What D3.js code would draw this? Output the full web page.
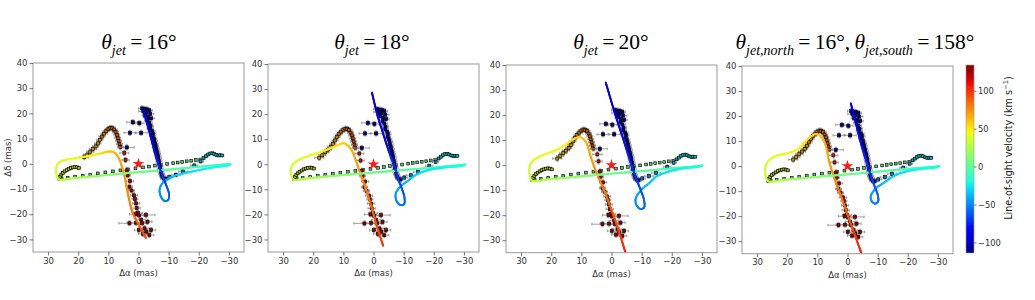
<!DOCTYPE html>
<html><head><meta charset="utf-8">
<script src="https://cdn.jsdelivr.net/npm/d3@7"></script>
<style>body{margin:0;background:#fff} svg{display:block}</style>
</head><body>
<svg id="chart" width="1035" height="300"></svg>
<script>
// ---------- DATA ----------
const xTicks = [30, 20, 10, 0, -10, -20, -30];
const yTicks = [-30, -20, -10, 0, 10, 20, 30, 40];
const cbTicks = [-100, -50, 0, 50, 100];
const VMIN = -114, VMAX = 134;

// observed components: [dRA, dDec, velocity, xerr, yerr]
const blueChain = [
 [-1.2,22.0,-105,1.2,1.0],[-2.0,21.8,-105,1.0,1.0],[-2.8,21.6,-105,1.2,1.0],[-3.6,21.2,-105,1.0,1.0],
 [-1.6,20.8,-105,1.5,1.0],[-2.6,20.3,-105,1.0,1.0],[-3.9,19.8,-105,1.2,1.0],[-2.2,19.2,-105,1.0,1.0],
 [-3.2,18.6,-104,1.5,1.0],[-4.2,18.0,-104,1.0,1.0],[-3.0,17.3,-104,1.0,1.0],[-3.6,16.2,-104,1.0,1.0],
 [-4.0,15.0,-103,1.0,1.0],[-3.9,14.0,-103,1.0,1.0],[-4.5,13.0,-103,1.0,1.0],[-4.8,12.0,-102,1.0,1.0],
 [-4.7,11.0,-102,1.0,1.0],[-5.1,10.0,-102,1.0,1.0],[-5.3,9.0,-101,1.0,1.0],[-5.5,8.0,-101,1.0,1.0],
 [-5.7,7.0,-100,1.0,1.0],[-5.9,6.0,-100,1.0,1.0],[-6.1,5.0,-99,1.0,1.0],[-6.3,4.0,-99,1.0,1.0],
 [-6.5,3.0,-98,1.0,1.0],[-6.6,2.0,-98,1.0,1.0],[-6.8,1.0,-97,1.0,1.0],[-6.9,0.0,-97,1.0,1.0],
 [-7.1,-1.0,-96,1.0,1.0],[-7.2,-2.0,-95,1.0,1.0],[-7.4,-3.0,-94,1.0,1.0],[-7.6,-4.0,-93,1.0,1.0],
 [-7.9,-5.0,-92,1.0,1.0],[-8.3,-5.8,-90,1.0,1.0],[-9.0,-6.1,-88,1.0,1.0]
];
const blueScatter = [
 [1.9,16.5,-108,2.0,1.0],[-0.3,16.1,-108,1.5,1.0],[2.8,12.3,-108,2.0,1.0],
 [-0.9,12.3,-108,2.0,1.0],[3.9,6.5,-108,2.5,1.0]
];
const lightBlue = [
 [-10.2,-5.3,-48,1.2,0.8],[-12.4,-4.4,-45,1.5,0.8],[-14.8,-3.1,-42,1.5,0.8],
 [-18.5,-0.7,-38,1.2,0.8],[-20.6,1.0,-34,1.0,0.8]
];
const cyanCluster = [
 [-21.6,2.3,-28,0.6,0.5],[-22.4,3.0,-26,0.6,0.5],[-23.1,3.7,-25,0.6,0.5],[-23.8,4.1,-24,0.6,0.5],
 [-24.5,4.2,-24,0.6,0.5],[-25.1,3.9,-24,0.6,0.5],[-25.8,3.5,-25,0.6,0.5],[-26.5,3.3,-26,0.6,0.5],
 [-27.1,3.4,-26,0.6,0.5],[-27.7,3.3,-27,0.6,0.5]
];
const greenRow = [
 [25.5,-5.8,5,0,0],[23.5,-5.5,5,0,0],[21.0,-5.1,5,0,0],[18.5,-4.7,5,0,0],[16.0,-4.3,5,0,0],
 [13.5,-3.8,5,0,0],[11.0,-3.4,5,0,0],[8.5,-3.0,5,0,0],[6.0,-2.6,5,0,0],[3.5,-2.2,5,0,0],
 [1.0,-1.8,5,0,0],[-1.5,-1.4,5,0,0],[-3.5,-1.1,5,0,0],[-5.5,-0.7,5,0,0],[-7.5,-0.4,5,0,0],
 [-9.5,-0.1,5,0,0],[-11.5,0.25,5,0,0],[-13.0,0.5,5,0,0],[-14.5,0.75,5,0,0],[-16.0,1.0,5,0,0],
 [-17.5,1.2,5,0,0],[-19.0,1.5,5,0,0],[-20.5,1.7,5,0,0]
];
const oliveArc = [
 [26.3,-5.9,38,0.5,0.5],[26.0,-5.1,38,0.5,0.5],[25.6,-4.3,38,0.5,0.5],[25.1,-3.6,38,0.5,0.5],
 [24.5,-3.0,38,0.5,0.5],[23.8,-2.5,38,0.5,0.5],[23.1,-2.0,38,0.5,0.5],[22.4,-1.7,38,0.5,0.5],
 [21.7,-1.4,38,0.5,0.5],[21.0,-1.3,38,0.5,0.5],[20.4,-1.4,38,0.5,0.5],[19.8,-1.7,38,0.5,0.5]
];
const orangeArc = [
 [18.0,2.6,58,1.5,1.0],[17.0,3.6,60,1.2,1.0],[16.0,4.8,62,1.2,1.0],[15.1,5.8,63,1.2,1.0],
 [14.2,6.9,65,1.0,1.0],[13.5,8.1,66,1.0,1.0],[12.8,9.5,68,1.0,1.0],[12.1,10.8,70,1.0,1.0],
 [11.4,12.0,72,1.0,1.0],[10.7,13.0,74,1.0,1.0],[10.0,13.8,76,1.0,1.0],[9.3,14.2,78,1.0,1.0],
 [8.7,14.1,80,1.0,1.0],[8.1,13.6,82,1.0,1.0],[7.6,12.6,84,1.0,1.0],[7.2,11.5,86,1.0,1.0],
 [6.9,10.3,88,1.0,1.0],[6.6,9.1,90,1.0,1.0],[6.3,7.8,92,1.0,1.0],[6.0,6.6,94,1.0,1.0],
 [4.7,4.3,100,1.5,1.0],[4.3,1.5,102,1.2,1.0]
];
const redChain = [
 [3.9,-2.6,112,1.0,1.0],[3.6,-4.6,112,1.0,1.0],[2.8,-6.9,114,1.2,1.0],[3.0,-9.1,114,1.0,1.0],
 [2.3,-10.6,115,1.0,1.0],[1.5,-12.5,116,1.2,1.0],[1.2,-14.0,116,1.0,1.0],[0.8,-15.7,117,1.2,1.0],
 [0.6,-17.6,118,1.2,1.0],[0.1,-19.5,118,1.5,1.0],[-0.2,-20.5,119,1.5,1.0],[-0.9,-22.2,120,1.5,1.0],
 [0.8,-23.4,120,3.0,1.0],[-1.2,-23.6,120,1.5,1.0],[3.0,-23.6,120,3.5,1.0],[-2.0,-25.6,122,1.5,1.0],
 [-0.1,-26.3,122,1.5,1.0],[-2.6,-26.9,122,1.5,1.0],[-1.5,-27.8,123,1.5,1.0],[-3.6,-28.3,124,1.5,1.0],
 [-4.2,-26.3,124,1.5,1.0],[-3.0,-23.0,122,1.5,1.0],[-2.5,-20.3,120,3.0,1.0],[1.0,-20.0,118,2.0,1.0]
];

// model jet trajectories: [dRA, dDec, velocity]
const model16 = [
 [-2.5,-29.5,95],[0.0,-24.0,88],[1.9,-19.6,82],[3.5,-12.0,76],[4.6,-5.1,72],[5.8,0.0,70],
 [6.8,2.8,68],[8.0,4.5,65],[9.6,4.9,60],[13.0,4.0,52],[17.3,2.9,46],[21.0,2.2,43],[25.0,1.3,40],
 [26.8,0.0,38],[27.3,-2.5,36],[27.0,-5.0,34],[26.4,-6.2,32],[20.0,-5.5,24],[10.0,-4.4,15],
 [0.0,-3.3,7],[-10.0,-2.3,0],[-20.0,-1.2,-6],[-27.0,-0.4,-12],[-29.8,-0.1,-14],[-30.6,0.0,-16],
 [-29.8,-0.6,-18],[-25.0,-1.4,-22],[-20.0,-2.5,-26],[-15.0,-3.8,-30],[-12.4,-4.6,-34],[-10.0,-5.9,-38],
 [-8.0,-7.6,-42],[-7.0,-10.2,-46],[-7.5,-13.2,-50],[-8.8,-14.8,-53],[-9.9,-14.2,-56],[-10.1,-11.8,-60],
 [-9.3,-8.8,-64],[-8.2,-5.5,-69],[-7.0,-1.5,-73],[-5.5,4.0,-78],[-4.0,11.0,-84],[-2.8,16.0,-88],[-1.6,21.5,-92]
];
const model18 = [
 [-3.2,-32.5,100],[-1.2,-25.0,92],[0.7,-17.0,85],[2.5,-10.0,78],[4.0,-5.0,74],[5.7,1.0,70],
 [7.3,5.7,66],[8.8,7.8,62],[10.0,8.4,58],[12.5,7.3,52],[17.2,5.0,46],[21.0,3.5,42],[24.9,1.7,39],
 [27.0,-0.5,36],[27.5,-3.0,34],[27.0,-5.3,32],[26.5,-6.1,31],[20.0,-5.4,24],[10.0,-4.3,15],
 [0.0,-3.3,7],[-10.0,-2.3,0],[-20.0,-1.3,-6],[-27.0,-0.5,-12],[-29.8,-0.2,-15],[-30.5,0.0,-16],
 [-29.5,-0.6,-18],[-24.0,-1.2,-22],[-18.0,-2.4,-27],[-14.0,-4.3,-31],[-11.5,-6.5,-36],[-9.0,-8.8,-41],
 [-7.4,-11.6,-45],[-7.6,-14.5,-49],[-8.8,-16.2,-53],[-10.1,-16.0,-56],[-10.3,-13.5,-60],[-9.5,-10.0,-64],
 [-8.2,-6.0,-69],[-7.0,-1.0,-73],[-5.0,5.5,-78],[-3.0,13.0,-84],[-1.2,20.0,-89],[0.5,28.6,-95]
];
const model20 = [
 [-4.6,-34.8,105],[-2.2,-25.5,95],[0.0,-17.8,88],[2.5,-10.0,80],[5.0,-3.1,74],[6.8,3.0,70],
 [8.3,8.8,66],[9.5,10.6,62],[10.7,11.2,58],[12.5,10.4,53],[17.1,6.8,47],[21.0,4.8,43],[23.7,3.5,40],
 [26.5,1.2,37],[27.3,-1.5,35],[27.0,-4.5,33],[26.4,-6.2,31],[20.0,-5.6,24],[10.0,-4.5,15],
 [0.0,-3.4,7],[-10.0,-2.4,0],[-20.0,-1.3,-6],[-27.0,-0.6,-12],[-29.7,-0.3,-15],[-30.3,-0.1,-16],
 [-29.3,-0.6,-18],[-24.0,-1.3,-22],[-19.2,-2.5,-27],[-15.0,-4.5,-31],[-12.6,-7.1,-36],[-9.8,-10.0,-41],
 [-8.0,-13.5,-45],[-8.3,-16.0,-49],[-9.6,-17.5,-53],[-10.8,-17.0,-56],[-10.8,-14.0,-60],[-9.7,-10.0,-64],
 [-8.2,-5.5,-69],[-6.5,0.5,-73],[-4.0,10.0,-80],[-1.3,20.0,-86],[1.9,33.0,-95]
];
const model16n158s = [
 [-4.6,-34.8,105],[-2.3,-27.0,96],[-0.2,-20.0,89],[2.0,-12.5,82],[4.2,-5.4,76],[6.0,1.5,71],
 [7.5,9.2,66],[9.0,12.0,62],[10.6,12.8,58],[12.5,11.5,53],[16.8,6.5,47],[20.5,5.0,43],[24.0,3.9,40],
 [26.6,1.5,37],[27.3,-1.5,35],[27.0,-4.5,33],[26.4,-6.0,31],[20.0,-5.4,24],[10.0,-4.3,15],
 [0.0,-3.3,7],[-10.0,-2.2,0],[-20.0,-1.1,-6],[-27.0,-0.4,-12],[-29.9,-0.1,-15],[-30.5,0.1,-16],
 [-29.5,-0.5,-18],[-24.0,-1.2,-22],[-18.9,-2.3,-27],[-15.0,-4.2,-31],[-12.3,-6.5,-36],[-9.5,-8.8,-41],
 [-7.7,-12.0,-45],[-8.2,-14.3,-49],[-9.3,-15.0,-53],[-10.2,-14.0,-56],[-9.9,-11.0,-60],[-8.8,-7.5,-64],
 [-7.8,-4.0,-69],[-6.5,1.0,-73],[-4.5,9.0,-79],[-2.8,17.0,-85],[-1.1,25.1,-92]
];
const titles = [
 [["θ","it"],["jet","sub"],["\u2009=\u200916°",""]],
 [["θ","it"],["jet","sub"],["\u2009=\u200918°",""]],
 [["θ","it"],["jet","sub"],["\u2009=\u200920°",""]],
 [["θ","it"],["jet,north","sub"],["\u2009=\u200916°,\u2009",""],["θ","it"],["jet,south","sub"],["\u2009=\u2009158°",""]]
];
const models = [model16, model18, model20, model16n158s];

// ---------- LAYOUT ----------
const layout = [
 {left:33, top:63, bottom:252, tx:139},
 {left:268, top:64, bottom:252, tx:372},
 {left:506, top:65, bottom:252.7, tx:611},
 {left:742, top:66, bottom:253.7, tx:855}
];
const PW = 211;
const svg = d3.select("#chart");
const defs = svg.append("defs");

// jet colormap (matplotlib segment data)
const jetR = d3.scaleLinear().domain([0,0.35,0.66,0.89,1]).range([0,0,1,1,0.5]).clamp(true);
const jetG = d3.scaleLinear().domain([0,0.125,0.375,0.64,0.91,1]).range([0,0,1,1,0,0]).clamp(true);
const jetB = d3.scaleLinear().domain([0,0.11,0.34,0.65,1]).range([0.5,1,1,0,0]).clamp(true);
const vNorm = d3.scaleLinear().domain([VMIN, VMAX]).range([0,1]).clamp(true);
const jetT = t => d3.rgb(jetR(t)*255, jetG(t)*255, jetB(t)*255).formatHex();
const jet = v => jetT(vNorm(v));
const jetDark = v => d3.interpolateRgb(jet(v), "#000")(0.25);

const tickFont = "DejaVu Sans, sans-serif";
const fmt = d => d3.format("d")(d);

function drawModel(g, pts, x, y) {
  const line = d3.line().x(d => x(d[0])).y(d => y(d[1])).curve(d3.curveCatmullRom.alpha(0.5));
  const tmp = g.append("path").attr("d", line(pts)).attr("fill","none").attr("stroke","none");
  const node = tmp.node();
  const L = node.getTotalLength();
  const c = [0];
  for (let i = 1; i < pts.length; i++) {
    const dx = x(pts[i][0]) - x(pts[i-1][0]), dy = y(pts[i][1]) - y(pts[i-1][1]);
    c.push(c[i-1] + Math.hypot(dx, dy));
  }
  const C = c[c.length-1];
  const vAt = d3.scaleLinear().domain(c).range(pts.map(d => d[2]));
  const n = Math.ceil(L / 1.0);
  let prev = node.getPointAtLength(0);
  const segs = [];
  for (let k = 1; k <= n; k++) {
    const s = k / n * L;
    const p = node.getPointAtLength(s);
    segs.push({x1: prev.x, y1: prev.y, x2: p.x, y2: p.y, v: vAt((s - 0.5) / L * C)});
    prev = p;
  }
  g.selectAll(null).data(segs).join("line")
    .attr("x1", d => d.x1).attr("y1", d => d.y1).attr("x2", d => d.x2).attr("y2", d => d.y2)
    .attr("stroke", d => jet(d.v)).attr("stroke-width", 1.9).attr("stroke-linecap", "round");
  tmp.remove();
}

function drawPoints(g, data, x, y, size) {
  const eb = g.append("g").attr("stroke", "#7a7a7a").attr("stroke-width", 0.7);
  data.filter(d => d[3] > 0).forEach(d => {
    const cx = x(d[0]), cy = y(d[1]);
    const x0 = x(d[0] + d[3]), x1 = x(d[0] - d[3]);
    const y0 = y(d[1] + d[4]), y1 = y(d[1] - d[4]);
    eb.append("line").attr("x1", x0).attr("x2", x1).attr("y1", cy).attr("y2", cy);
    eb.append("line").attr("x1", cx).attr("x2", cx).attr("y1", y0).attr("y2", y1);
    eb.append("line").attr("x1", x0).attr("x2", x0).attr("y1", cy-1.3).attr("y2", cy+1.3);
    eb.append("line").attr("x1", x1).attr("x2", x1).attr("y1", cy-1.3).attr("y2", cy+1.3);
    eb.append("line").attr("y1", y0).attr("y2", y0).attr("x1", cx-1.3).attr("x2", cx+1.3);
    eb.append("line").attr("y1", y1).attr("y2", y1).attr("x1", cx-1.3).attr("x2", cx+1.3);
  });
  g.selectAll(null).data(data).join("rect")
    .attr("x", d => x(d[0]) - size/2).attr("y", d => y(d[1]) - size/2)
    .attr("width", size).attr("height", size)
    .attr("fill", d => jetDark(d[2])).attr("stroke", "#000").attr("stroke-width", 0.6);
}

layout.forEach((L, i) => {
  const x = d3.scaleLinear().domain([35, -35]).range([L.left, L.left + PW]);
  const y = d3.scaleLinear().domain([-35, 40]).range([L.bottom, L.top]);
  const g = svg.append("g");
  const clipId = "clip" + i;
  defs.append("clipPath").attr("id", clipId).append("rect")
    .attr("x", L.left).attr("y", L.top).attr("width", PW).attr("height", L.bottom - L.top);

  const plot = g.append("g").attr("clip-path", `url(#${clipId})`);
  drawPoints(plot, greenRow, x, y, 2.8);
  drawPoints(plot, oliveArc, x, y, 2.8);
  drawPoints(plot, orangeArc, x, y, 3.0);
  drawPoints(plot, redChain, x, y, 3.0);
  drawPoints(plot, lightBlue, x, y, 3.0);
  drawPoints(plot, cyanCluster, x, y, 2.8);
  drawPoints(plot, blueScatter, x, y, 3.2);
  drawPoints(plot, blueChain, x, y, 3.0);
  drawModel(plot, models[i], x, y);
  plot.append("path").attr("d", d3.symbol(d3.symbolStar, 42)())
    .attr("transform", `translate(${x(0)},${y(0)})`).attr("fill", "#ff1a1a");

  // frame
  g.append("rect").attr("x", L.left).attr("y", L.top).attr("width", PW).attr("height", L.bottom - L.top)
    .attr("fill", "none").attr("stroke", "#9a9a9a").attr("stroke-width", 1);

  const ax = g.append("g").attr("transform", `translate(0,${L.bottom})`)
    .call(d3.axisBottom(x).tickValues(xTicks).tickSize(3.5).tickPadding(2).tickFormat(fmt));
  const ay = g.append("g").attr("transform", `translate(${L.left},0)`)
    .call(d3.axisLeft(y).tickValues(yTicks).tickSize(3.5).tickPadding(2).tickFormat(fmt));
  [ax, ay].forEach(a => {
    a.select(".domain").remove();
    a.selectAll(".tick line").attr("stroke", "#555").attr("stroke-width", 0.8);
    a.selectAll(".tick text").attr("fill", "#333").attr("font-size", 8.5).attr("font-family", tickFont);
  });

  g.append("text").attr("x", L.left + PW/2).attr("y", L.bottom + 24).attr("text-anchor", "middle")
    .attr("font-family", tickFont).attr("font-size", 8.5).attr("fill", "#333")
    .text("Δα (mas)");
  if (i === 0) {
    g.append("text").attr("transform", `translate(11,${(L.top + L.bottom)/2}) rotate(-90)`)
      .attr("text-anchor", "middle").attr("font-family", tickFont).attr("font-size", 8.5).attr("fill", "#333")
      .text("Δδ (mas)");
  }

  // title
  const t = g.append("text").attr("x", L.tx).attr("y", 49).attr("text-anchor", "middle")
    .attr("font-family", "Liberation Serif, Times New Roman, serif").attr("font-size", 21.5).attr("fill", "#000");
  titles[i].forEach(([s, kind], k) => {
    const ts = t.append("tspan").text(s);
    const prevKind = k > 0 ? titles[i][k-1][1] : "";
    if (kind === "it") ts.attr("font-style", "italic");
    if (kind === "sub") ts.attr("font-style", "italic").attr("font-size", 14).attr("dy", 6);
    if (kind !== "sub" && prevKind === "sub") ts.attr("dy", -6);
  });
});

// ---------- COLORBAR ----------
const cb = {x: 966, y: 65, w: 8, h: 188};
const grad = defs.append("linearGradient").attr("id", "jetgrad")
  .attr("x1", 0).attr("y1", 1).attr("x2", 0).attr("y2", 0);
d3.range(0, 1.0001, 0.02).forEach(t => grad.append("stop").attr("offset", t).attr("stop-color", jetT(t)));
svg.append("rect").attr("x", cb.x).attr("y", cb.y).attr("width", cb.w).attr("height", cb.h)
  .attr("fill", "url(#jetgrad)").attr("stroke", "#9a9a9a").attr("stroke-width", 0.6);
const cy = d3.scaleLinear().domain([VMIN, VMAX]).range([cb.y + cb.h, cb.y]);
const cax = svg.append("g").attr("transform", `translate(${cb.x + cb.w},0)`)
  .call(d3.axisRight(cy).tickValues(cbTicks).tickSize(2.5).tickPadding(1.5).tickFormat(fmt));
cax.select(".domain").remove();
cax.selectAll(".tick line").attr("stroke", "#555").attr("stroke-width", 0.8);
cax.selectAll(".tick text").attr("fill", "#333").attr("font-size", 8.3).attr("font-family", tickFont);
const cl = svg.append("text").attr("transform", `translate(1012,${cb.y + 83}) rotate(-90)`)
  .attr("text-anchor", "middle").attr("font-family", tickFont).attr("font-size", 9.6).attr("fill", "#222");
cl.append("tspan").text("Line-of-sight velocity (km s");
cl.append("tspan").text("−1").attr("font-size", 6.8).attr("dy", -3.8);
cl.append("tspan").text(")").attr("dy", 3.8);
</script></body></html>
